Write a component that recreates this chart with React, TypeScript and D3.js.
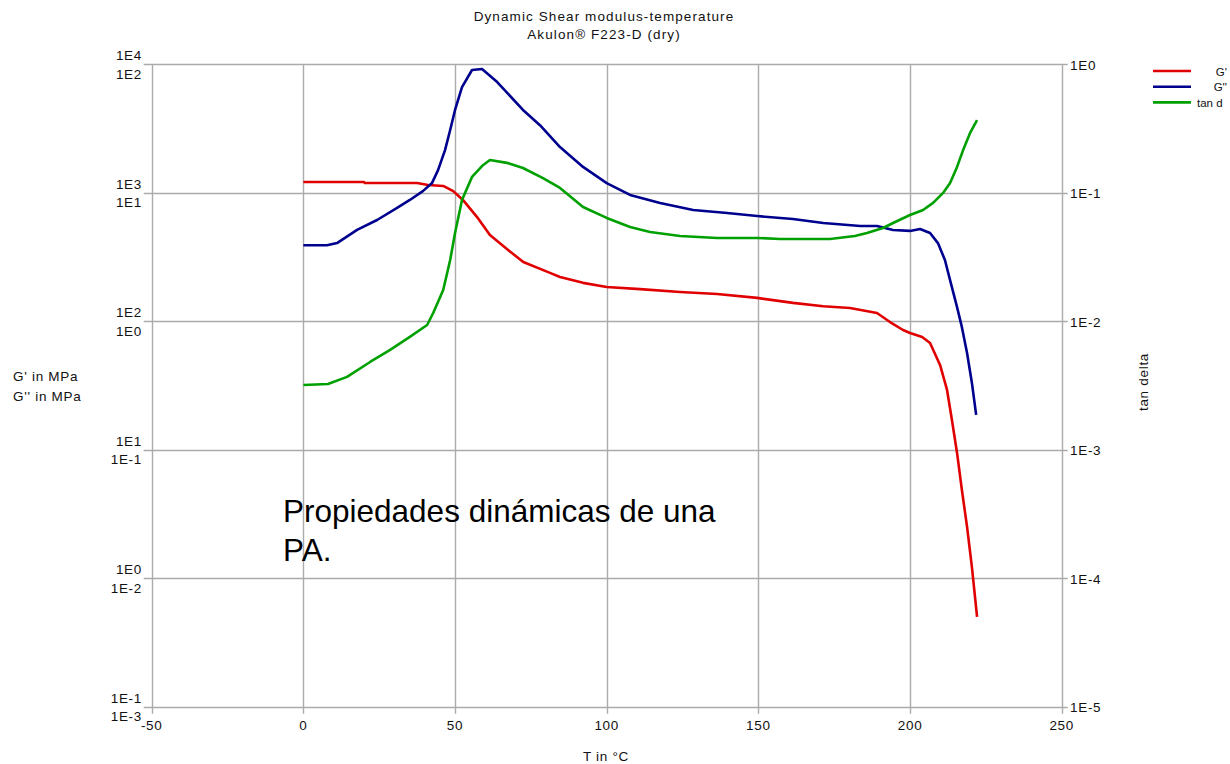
import React from "react";
import * as d3 from "d3";

// ---- data ----
const titleLines = ["Dynamic Shear modulus-temperature", "Akulon\u00AE F223-D (dry)"];
const xTicks = [-50, 0, 50, 100, 150, 200, 250];
const leftTicksG1 = ["1E-1", "1E0", "1E1", "1E2", "1E3", "1E4"]; // G' axis
const leftTicksG2 = ["1E-3", "1E-2", "1E-1", "1E0", "1E1", "1E2"]; // G'' axis
const rightTicks = ["1E-5", "1E-4", "1E-3", "1E-2", "1E-1", "1E0"]; // tan delta axis
const legendLabels = ["G'", "G''", "tan d"];

// G' (MPa) vs T
const gpT = [0, 20, 20.3, 37.5, 41.1, 46.1, 49.4, 52.6, 57.2, 61.5, 67.1, 72.5, 81.3, 84.6, 92.2, 100, 111, 124.2, 136.4, 149.6, 161.4, 171.4, 180.2, 189.1, 193.4, 197.7, 200, 204, 206.6, 209.9, 212.2, 213.8, 215.5, 217.1, 218.8, 220.4, 222.1];
const gpV = [1213, 1213, 1190, 1190, 1150, 1130, 1030, 880, 650, 470, 365, 289, 238, 221, 199, 185, 178, 169, 163, 152, 139, 131, 127, 116, 98.6, 85.5, 81, 75.5, 67.8, 45.7, 29.2, 17.1, 9.44, 4.86, 2.51, 1.22, 0.5];

// G'' (MPa) vs T
const gppT = [0, 7.8, 11.1, 17.7, 24.3, 30.9, 35.1, 39.4, 42.4, 44.4, 46.7, 48.4, 50, 52.3, 55.6, 58.9, 63.9, 72.4, 78, 84.6, 92.2, 100, 107.7, 117.6, 128.5, 139.7, 149.6, 161.4, 171.4, 183.6, 189.1, 194.4, 200, 203.3, 206.6, 209.2, 211.5, 213.2, 215.5, 217.1, 218.8, 220.4, 221.8];
const gppV = [3.9, 3.9, 4.06, 5.14, 6.14, 7.62, 8.79, 10.3, 11.9, 15.0, 21.5, 30.8, 44.1, 66.5, 90.3, 91.9, 72.8, 44.1, 33.6, 22.7, 15.9, 11.9, 9.62, 8.33, 7.35, 6.97, 6.59, 6.25, 5.82, 5.51, 5.51, 5.13, 5.05, 5.23, 4.86, 4.06, 3.0, 2.09, 1.29, 0.9, 0.566, 0.331, 0.187];

// tan delta vs T
const tdT = [0, 8.1, 14.4, 22, 28.6, 35.1, 40.8, 42.8, 46.1, 48.4, 50, 52.3, 55.6, 59.2, 61.5, 67.1, 72.4, 79, 84.6, 92.2, 100, 107.7, 114.3, 124.2, 136.4, 149.6, 157.2, 173.6, 181.8, 185.8, 191.1, 194.4, 200, 204.3, 207.6, 210.9, 213.2, 215.5, 217.5, 219.8, 222.1];
const tdV = [0.00319, 0.00325, 0.00369, 0.00482, 0.00598, 0.00755, 0.00935, 0.0116, 0.0175, 0.03, 0.0486, 0.0879, 0.133, 0.164, 0.18, 0.171, 0.156, 0.13, 0.109, 0.0775, 0.0637, 0.0542, 0.0495, 0.0461, 0.0445, 0.0445, 0.0437, 0.0437, 0.0461, 0.0486, 0.0532, 0.0582, 0.0672, 0.0735, 0.0834, 0.0998, 0.119, 0.159, 0.215, 0.292, 0.368];

const annotationLines = ["Propiedades din\u00E1micas de una", "PA."];

// ---- layout ----
const W = 1230;
const H = 764;
const L = 151.7;
const R = 1061.7;
const T = 64.3;
const B = 706.7;
const FONT = "'Liberation Sans', Arial, sans-serif";
const GRID = "#ababab";
const RED = "#e00000";
const BLUE = "#00008f";
const GREEN = "#00a000";

export default function App() {
  const x = d3.scaleLinear().domain([-50, 250]).range([L, R]);
  const yG1 = d3.scaleLog().domain([1e-1, 1e4]).range([B, T]);
  const yG2 = d3.scaleLog().domain([1e-3, 1e2]).range([B, T]);
  const yTd = d3.scaleLog().domain([1e-5, 1e0]).range([B, T]);
  const decades = d3.range(6).map((i) => Math.pow(10, -5 + i));

  const mk = (ts: number[], vs: number[], ys: d3.ScaleLogarithmic<number, number>) =>
    d3.line<number>().x((_, i) => x(ts[i])).y((v) => ys(v))(vs) || "";

  const series = [
    { d: mk(gpT, gpV, yG1), c: RED },
    { d: mk(gppT, gppV, yG2), c: BLUE },
    { d: mk(tdT, tdV, yTd), c: GREEN },
  ];
  const legendColors = [RED, BLUE, GREEN];
  const ts = { fontFamily: FONT, fontSize: 13.5, letterSpacing: 0.7, fill: "#111" } as const;

  return (
    <svg width={W} height={H} style={{ position: "absolute", left: 0, top: 0, background: "#fff" }}>
      <rect width={W} height={H} fill="#fff" />
      {/* title */}
      {titleLines.map((t, i) => (
        <text key={t} x={604} y={21 + i * 17.5} textAnchor="middle" {...ts} letterSpacing={1.1}>
          {t}
        </text>
      ))}
      {/* horizontal gridlines with tick extensions */}
      {decades.map((v) => {
        const yy = Math.round(yTd(v)) + 0.5;
        return <line key={"h" + v} x1={L - 8} x2={R + 6} y1={yy} y2={yy} stroke={GRID} strokeWidth={1.4} />;
      })}
      {/* vertical gridlines with tick extensions */}
      {xTicks.map((v) => {
        const xx = Math.round(x(v)) + 0.5;
        return <line key={"v" + v} x1={xx} x2={xx} y1={T} y2={B + 7} stroke={GRID} strokeWidth={1.4} />;
      })}
      {/* x tick labels */}
      {xTicks.map((v) => (
        <text key={"xl" + v} x={x(v)} y={730} textAnchor="middle" {...ts}>
          {String(v)}
        </text>
      ))}
      {/* left tick labels: G' above, G'' below */}
      {decades.map((v, i) => (
        <text key={"l1" + i} x={142} y={yTd(v) - 4} textAnchor="end" {...ts}>
          {leftTicksG1[i]}
        </text>
      ))}
      {decades.map((v, i) => (
        <text key={"l2" + i} x={142} y={yTd(v) + 14.5} textAnchor="end" {...ts}>
          {leftTicksG2[i]}
        </text>
      ))}
      {/* right tick labels */}
      {decades.map((v, i) => (
        <text key={"r" + i} x={1070} y={yTd(v) + 5.5} textAnchor="start" {...ts}>
          {rightTicks[i]}
        </text>
      ))}
      {/* axis titles */}
      <text x={13} y={381} {...ts}>G' in MPa</text>
      <text x={13} y={401} {...ts}>G'' in MPa</text>
      <text x={606} y={761} textAnchor="middle" {...ts}>T in °C</text>
      <text transform="translate(1148,382) rotate(-90)" textAnchor="middle" {...ts}>tan delta</text>
      {/* series */}
      {series.map((s, i) => (
        <path key={"s" + i} d={s.d} fill="none" stroke={s.c} strokeWidth={2.6} strokeLinejoin="round" />
      ))}
      {/* legend */}
      {legendLabels.map((lab, i) => (
        <g key={"lg" + i}>
          <line x1={1153} x2={1191} y1={71 + i * 15.7} y2={71 + i * 15.7} stroke={legendColors[i]} strokeWidth={2.6} />
          {i < 2 ? (
            <text x={1227} y={75.5 + i * 15.7} textAnchor="end" fontFamily={FONT} fontSize={11.5} fill="#111">
              {lab}
            </text>
          ) : (
            <text x={1197} y={75.5 + i * 15.7} fontFamily={FONT} fontSize={11.5} fill="#111">
              {lab}
            </text>
          )}
        </g>
      ))}
      {/* annotation */}
      {annotationLines.map((t, i) => (
        <text key={"a" + i} x={283} y={522 + i * 39} fontFamily={FONT} fontSize={31.5} fill="#000">
          {t}
        </text>
      ))}
    </svg>
  );
}
